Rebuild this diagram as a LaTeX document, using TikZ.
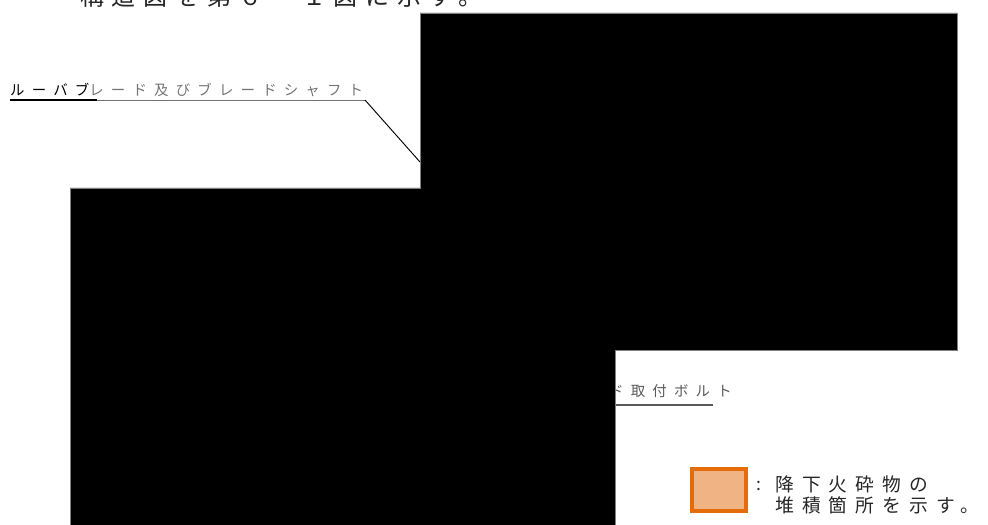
\documentclass[tikz,border=0pt]{standalone}
\usepackage{fontspec}
\usepackage{xcolor}
\usetikzlibrary{positioning, calc}

\newfontfamily\jpfont{Noto Sans CJK JP}
\newfontfamily\introfont{Noto Sans CJK JP}[LetterSpace=32]
\newfontfamily\calloutfont{Noto Sans CJK JP}[LetterSpace=50]
\newfontfamily\legendfont{Noto Sans CJK JP}[LetterSpace=43]

\definecolor{ashfill}{HTML}{F0B383}
\definecolor{ashedge}{HTML}{E46C0A}

\begin{document}
\begin{tikzpicture}[x=0.3mm, y=-0.3mm,
    callout/.style={inner sep=0pt, anchor=base west, font=\calloutfont\fontsize{12.3pt}{14pt}\selectfont},
    legendtext/.style={inner sep=0pt, anchor=base west, text=black!85, font=\legendfont\fontsize{16pt}{18pt}\selectfont},
    hidden/.style={fill=black, draw=black!50, line width=0.4pt}]
\useasboundingbox (0,0) rectangle (988,525);

% sentence above the figure, cut by the page edge
\node[inner sep=0pt, anchor=base west, text=black!85,
      font=\introfont\fontsize{20.5pt}{24pt}\selectfont] (intro) at (80,6) {構造図を第６－１図に示す。};

% callout: louver blade
\node[callout] (louver) at (10,96) {ルーバブ\textcolor{black!55}{レード及びブレードシャフト}};
\coordinate (louverL) at (10,100);
\coordinate (louverM) at (97,100);
\coordinate (louverR) at (365,100);
\coordinate (shaft) at (420,162);
\draw[line width=1pt] (louverL) -- (louverM);
\draw[black!55, line width=0.8pt] (louverM) -- (louverR);
\draw[line width=0.8pt] (louverR) -- (shaft);

% callout: bolt
\node[callout, text=black!65] (bolt) at (609,396) {ド取付ボルト};
\coordinate (boltR) at (713,405);
\draw[black!65, line width=1pt] (616,405) -- (boltR);

% blacked-out drawing
\filldraw[hidden] (420,13) -- (957,13) -- (957,350) -- (615,350) -- (615,525)
    -- (70,525) -- (70,188) -- (420,188) -- cycle;

% legend
\node[fill=ashfill, draw=ashedge, line width=1.2mm, minimum width=16.2mm,
      minimum height=12.6mm, inner sep=0pt] (swatch) at (719,490) {};
\node[legendtext] (leg1) at (775,491) {降下火砕物の};
\node[legendtext] (leg2) at (775,512) {堆積箇所を示す。};
\node[inner sep=0pt, anchor=base west, text=black!85,
      font=\jpfont\fontsize{15pt}{17pt}\selectfont] (colon) at (756,490) {:};
\end{tikzpicture}
\end{document}
